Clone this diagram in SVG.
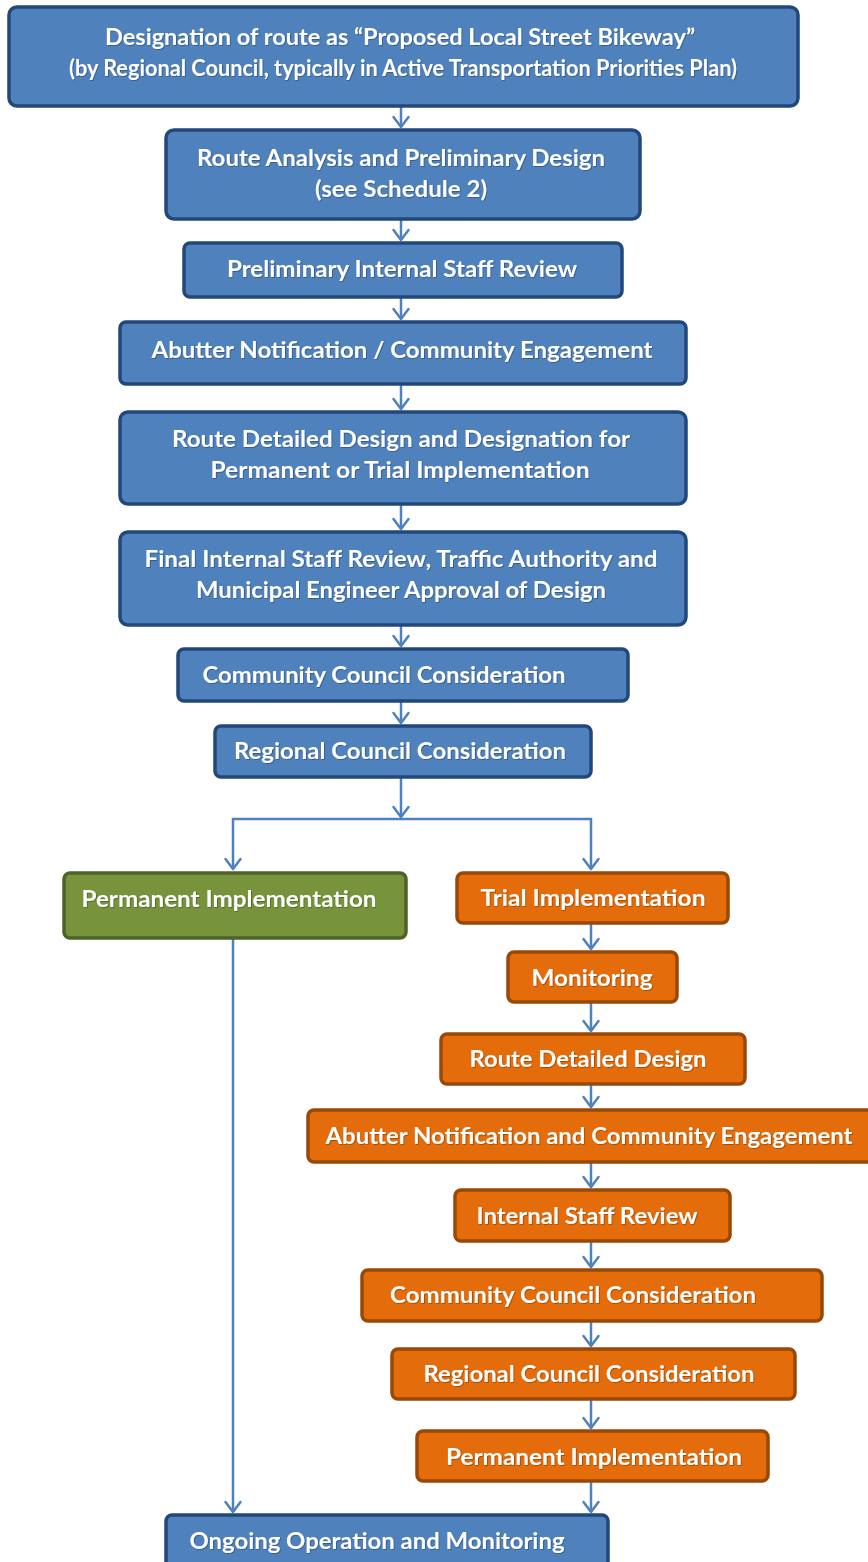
<svg xmlns="http://www.w3.org/2000/svg" width="868" height="1562" viewBox="0 0 868 1562">
<style>
.b{fill:#4F81BD;stroke:#22477A;stroke-width:3.5}
.g{fill:#77933C;stroke:#4F6228;stroke-width:3.5}
.o{fill:#E46C0A;stroke:#984807;stroke-width:3.5}
text{font-family:Lato,"Open Sans","Liberation Sans",sans-serif;font-weight:bold;font-size:22px;fill:#FFFFFF;text-anchor:middle;dominant-baseline:central;filter:url(#ts)}
.c{fill:none;stroke:#4F81BD;stroke-width:2.5;marker-end:url(#ah)}
</style>
<defs>
<filter id="ts" x="-5%" y="-30%" width="110%" height="160%">
<feDropShadow dx="0.8" dy="0.8" stdDeviation="0.6" flood-color="#000000" flood-opacity="0.35"/>
</filter>
<marker id="ah" markerUnits="userSpaceOnUse" viewBox="-13 -10 15 20" refX="0" refY="0" markerWidth="15" markerHeight="20" orient="auto">
<path d="M-10,-7.5 L0,0 L-10,7.5" fill="none" stroke="#4F81BD" stroke-width="2.5" stroke-linecap="round" stroke-linejoin="round"/>
</marker>
</defs>
<g id="connectors">
<path class="c" d="M401,107 V127"/>
<path class="c" d="M401,220 V240"/>
<path class="c" d="M401,298 V319"/>
<path class="c" d="M401,385 V409"/>
<path class="c" d="M401,505 V529"/>
<path class="c" d="M401,626 V646"/>
<path class="c" d="M401,702 V723"/>
<path class="c" d="M401,778 V817"/>
<path class="c" d="M401,819 H233 V869"/>
<path class="c" d="M401,819 H591 V869"/>
<path class="c" d="M233,939 V1512"/>
<path class="c" d="M591,924 V949"/>
<path class="c" d="M591,1003 V1031"/>
<path class="c" d="M591,1085 V1107"/>
<path class="c" d="M591,1163 V1187"/>
<path class="c" d="M591,1242 V1267"/>
<path class="c" d="M591,1322 V1346"/>
<path class="c" d="M591,1400 V1428"/>
<path class="c" d="M591,1482 V1512"/>
</g>
<g id="n1"><rect class="b" x="9" y="7" width="789" height="99" rx="8"/>
<text x="400" y="36" textLength="590" lengthAdjust="spacingAndGlyphs">Designation of route as “Proposed Local Street Bikeway”</text>
<text x="403" y="67" textLength="668" lengthAdjust="spacingAndGlyphs">(by Regional Council, typically in Active Transportation Priorities Plan)</text></g>
<g id="n2"><rect class="b" x="166" y="130" width="474" height="89" rx="8"/>
<text x="401" y="157" textLength="408" lengthAdjust="spacingAndGlyphs">Route Analysis and Preliminary  Design</text>
<text x="401" y="188" textLength="172" lengthAdjust="spacingAndGlyphs">(see Schedule 2)</text></g>
<g id="n3"><rect class="b" x="184" y="243" width="438" height="54" rx="6"/>
<text x="402" y="268" textLength="350" lengthAdjust="spacingAndGlyphs">Preliminary  Internal Staff Review</text></g>
<g id="n4"><rect class="b" x="120" y="322" width="566" height="62" rx="6"/>
<text x="402" y="349" textLength="501" lengthAdjust="spacingAndGlyphs">Abutter Notification / Community Engagement</text></g>
<g id="n5"><rect class="b" x="120" y="412" width="566" height="92" rx="8"/>
<text x="401" y="438" textLength="458" lengthAdjust="spacingAndGlyphs">Route Detailed Design  and Designation for</text>
<text x="400" y="469" textLength="379" lengthAdjust="spacingAndGlyphs">Permanent or Trial Implementation</text></g>
<g id="n6"><rect class="b" x="120" y="532" width="566" height="93" rx="8"/>
<text x="401" y="558" textLength="513" lengthAdjust="spacingAndGlyphs">Final Internal Staff Review, Traffic Authority and</text>
<text x="401" y="589" textLength="410" lengthAdjust="spacingAndGlyphs">Municipal Engineer Approval of Design</text></g>
<g id="n7"><rect class="b" x="178" y="649" width="450" height="52" rx="6"/>
<text x="384" y="674" textLength="363" lengthAdjust="spacingAndGlyphs">Community Council Consideration</text></g>
<g id="n8"><rect class="b" x="215" y="726" width="376" height="51" rx="6"/>
<text x="400" y="750" textLength="332" lengthAdjust="spacingAndGlyphs">Regional Council Consideration</text></g>
<g id="n9"><rect class="g" x="64" y="873" width="342" height="65" rx="6"/>
<text x="229" y="898" textLength="295" lengthAdjust="spacingAndGlyphs">Permanent Implementation</text></g>
<g id="n10"><rect class="o" x="457" y="873" width="271" height="50" rx="6"/>
<text x="593" y="897" textLength="225" lengthAdjust="spacingAndGlyphs">Trial  Implementation</text></g>
<g id="n11"><rect class="o" x="508" y="952" width="169" height="50" rx="6"/>
<text x="592" y="977" textLength="121" lengthAdjust="spacingAndGlyphs">Monitoring</text></g>
<g id="n12"><rect class="o" x="441" y="1034" width="304" height="50" rx="6"/>
<text x="588" y="1058" textLength="237" lengthAdjust="spacingAndGlyphs">Route Detailed Design</text></g>
<g id="n13"><rect class="o" x="308" y="1110" width="570" height="52" rx="6"/>
<text x="589" y="1135" textLength="527" lengthAdjust="spacingAndGlyphs">Abutter Notification and Community Engagement</text></g>
<g id="n14"><rect class="o" x="455" y="1190" width="275" height="51" rx="6"/>
<text x="587" y="1215" textLength="221" lengthAdjust="spacingAndGlyphs">Internal Staff Review</text></g>
<g id="n15"><rect class="o" x="362" y="1270" width="460" height="51" rx="6"/>
<text x="573" y="1294" textLength="366" lengthAdjust="spacingAndGlyphs">Community Council Consideration</text></g>
<g id="n16"><rect class="o" x="392" y="1349" width="403" height="50" rx="6"/>
<text x="589" y="1373" textLength="331" lengthAdjust="spacingAndGlyphs">Regional Council Consideration</text></g>
<g id="n17"><rect class="o" x="417" y="1431" width="351" height="50" rx="6"/>
<text x="594" y="1456" textLength="296" lengthAdjust="spacingAndGlyphs">Permanent Implementation</text></g>
<g id="n18"><rect class="b" x="166" y="1515" width="442" height="60" rx="6"/>
<text x="377" y="1540" textLength="375" lengthAdjust="spacingAndGlyphs">Ongoing Operation and Monitoring</text></g>
</svg>
